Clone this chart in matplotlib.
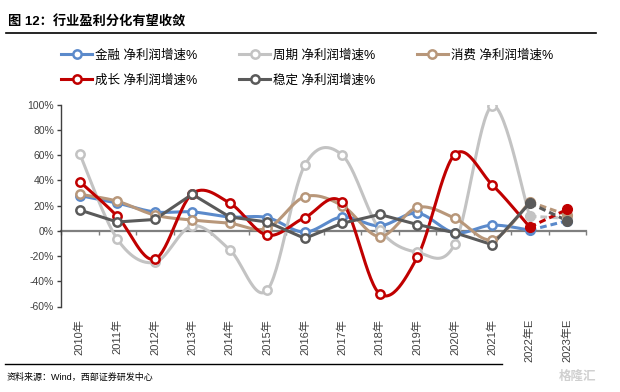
import numpy as np
import matplotlib
matplotlib.use("Agg")
from matplotlib import pyplot as plt
from matplotlib.lines import Line2D

plt.rcParams['font.family'] = ['Liberation Sans', 'Noto Sans CJK SC', 'DejaVu Sans']

years = ["2010年", "2011年", "2012年", "2013年", "2014年", "2015年", "2016年",
         "2017年", "2018年", "2019年", "2020年", "2021年", "2022年E", "2023年E"]

finance = [28, 22, 15, 15, 11, 10.5, -1, 11, 4, 14, -1.5, 4.5, 0.5, 8]
cyclical = [61, -6.5, -25, 4, -15, -47, 52, 60, 1, -17, -10.5, 99, 11.5, 10]
consumer = [29, 23.5, 12.5, 8.5, 6, 2, 27, 20, -4.5, 18.5, 10, -7, 23, 12.5]
growth = [39, 11.5, -22.5, 29.5, 22, -3.5, 10.5, 22.5, -50, -21, 60.5, 36.5, 3, 17]
stable = [16.5, 7, 9, 29, 11, 7, -6, 6, 13, 5, -1.5, -11, 22, 8]

names = ["金融 净利润增速%", "周期 净利润增速%", "消费 净利润增速%",
         "成长 净利润增速%", "稳定 净利润增速%"]
colors = ["#5B8ACB", "#C3C3C3", "#B8977A", "#C00000", "#5A5A5A"]
smooth = [True, True, True, True, False]
series = [finance, cyclical, consumer, growth, stable]


def smooth_path(x, y, n=30):
    # Excel-like smoothed line: Catmull-Rom control points as cubic Bezier
    x = np.asarray(x, float)
    y = np.asarray(y, float)
    px = np.concatenate([[x[0]], x, [x[-1]]])
    py = np.concatenate([[y[0]], y, [y[-1]]])
    t = np.linspace(0, 1, n)
    xs, ys = [], []
    for i in range(len(x) - 1):
        p0 = np.array([px[i + 1], py[i + 1]])
        p3 = np.array([px[i + 2], py[i + 2]])
        c1 = p0 + (p3 - np.array([px[i], py[i]])) / 6
        c2 = p3 - (np.array([px[i + 3], py[i + 3]]) - p0) / 6
        b = ((1 - t) ** 3)[:, None] * p0 + (3 * (1 - t) ** 2 * t)[:, None] * c1 \
            + (3 * (1 - t) * t ** 2)[:, None] * c2 + (t ** 3)[:, None] * p3
        xs.append(b[:, 0])
        ys.append(b[:, 1])
    return np.concatenate(xs), np.concatenate(ys)


fig = plt.figure(figsize=(6.2, 3.92), dpi=100)
ax = fig.add_axes([61 / 620, 1 - 306.5 / 392, 525 / 620, 201.8 / 392])

xpos = np.arange(len(years))
n_act = 12  # 2010-2021 actual, then estimates

for vals, col, sm in zip(series, colors, smooth):
    vals = np.asarray(vals, float)
    if sm:
        sx, sy = smooth_path(xpos[:n_act + 1], vals[:n_act + 1])
    else:
        sx, sy = xpos[:n_act + 1], vals[:n_act + 1]
    ax.plot(sx, sy, color=col, lw=2.2, solid_capstyle='round', zorder=3)
    ax.plot(xpos[n_act:], vals[n_act:], color=col, lw=2.2, ls=(0, (2.2, 1.3)), zorder=3)
    ax.plot(xpos[:n_act], vals[:n_act], ls='none', marker='o', ms=6,
            mfc='white', mec=col, mew=1.8, zorder=4)
    ax.plot(xpos[n_act:], vals[n_act:], ls='none', marker='o', ms=7,
            mfc=col, mec=col, zorder=4)

ax.set_xlim(-0.5, len(years) - 0.5)
ax.set_ylim(-60, 100)
ax.set_yticks(np.arange(-60, 101, 20))
ax.set_yticklabels([f"{v}%" for v in range(-60, 101, 20)])
ax.tick_params(axis='y', length=3, width=1, color='#404040', labelsize=7.5,
               labelcolor='#404040', pad=2)
ax.set_xticks(xpos)
ax.set_xticklabels(years, rotation=90, fontsize=8, color='#404040')
ax.tick_params(axis='x', length=0, pad=9)
for s in ['top', 'right', 'bottom']:
    ax.spines[s].set_visible(False)
ax.spines['left'].set_color('#404040')
ax.spines['left'].set_linewidth(1.0)

# zero axis with category ticks
zero = ax.secondary_xaxis(60 / 160)
zero.set_xticks(np.arange(-0.5, len(years), 1.0))
zero.set_xticklabels([])
zero.tick_params(length=3, width=1, color='#7F7F7F', direction='out')
zero.spines['bottom'].set_color('#7F7F7F')
zero.spines['bottom'].set_linewidth(1.6)

# legend is filled column by column: reorder so it reads row by row
order = [0, 3, 1, 4, 2]
handles = [Line2D([], [], color=colors[i], lw=2.2, marker='o', ms=6, mfc='white',
                  mec=colors[i], mew=1.8) for i in order]
fig.legend(handles, [names[i] for i in order], loc='upper left',
           bbox_to_anchor=(61 / 620, 1 - 49 / 392),
           ncol=3, frameon=False, fontsize=9, handlelength=2.5,
           handletextpad=0.25, columnspacing=3.3, labelspacing=1.0,
           borderpad=0, borderaxespad=0)

fig.text(8 / 620, 1 - 22 / 392, "图 12：行业盈利分化有望收敛", fontsize=9.5,
         fontweight='bold', va='center', ha='left')
fig.add_artist(Line2D([6 / 620, 596 / 620], [1 - 33 / 392, 1 - 33 / 392],
                      color='black', lw=1.2))
fig.add_artist(Line2D([5 / 620, 502 / 620], [1 - 364 / 392, 1 - 364 / 392],
                      color='black', lw=1.0))
fig.text(7 / 620, 1 - 377 / 392, "资料来源：Wind，西部证券研发中心", fontsize=6.5,
         va='center', ha='left')
fig.text(578 / 620, 1 - 377 / 392, "格隆汇", fontsize=9, color='#D0D0D0',
         va='center', ha='center', fontweight='bold')

fig.savefig("out.png", dpi=100)
